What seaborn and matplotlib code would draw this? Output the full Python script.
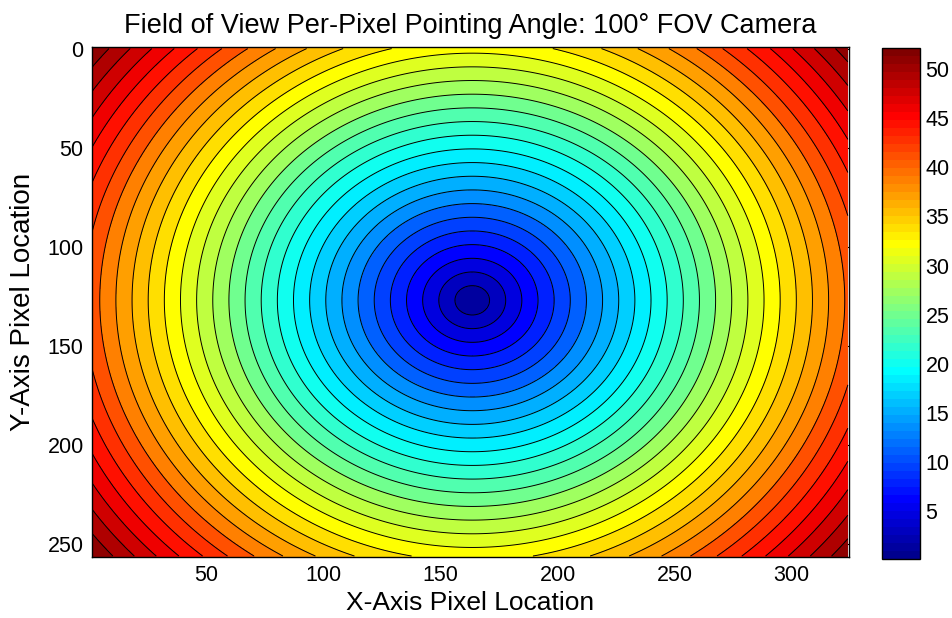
import numpy as np
import pandas as pd
import matplotlib
matplotlib.use("Agg")
import matplotlib.pyplot as plt
import seaborn as sns
from matplotlib.colors import ListedColormap, Normalize
from matplotlib.cm import ScalarMappable

# ---- data description ----
N_X = 324              # image width in pixels
N_Y = 256              # image height in pixels
CENTER = [163.5, 127.0]  # optical centre (x, y) in pixel units
DEG_PER_PIXEL = 0.2513   # angular pointing change per pixel (equidistant)
N_BANDS = 30             # number of filled contour bands
X_TICKS = [50, 100, 150, 200, 250, 300]
Y_TICKS = [0, 50, 100, 150, 200, 250]
CB_TICKS = [5, 10, 15, 20, 25, 30, 35, 40, 45, 50]

TITLE = "Field of View Per-Pixel Pointing Angle: 100° FOV Camera"
XLABEL = "X-Axis Pixel Location"
YLABEL = "Y-Axis Pixel Location"

# ---- MATLAB-style jet(64) ----
def matlab_jet(n=64):
    m = int(np.ceil(n / 4))
    u = np.concatenate([np.arange(1, m + 1) / m, np.ones(m - 1), np.arange(m, 0, -1) / m])
    g = int(np.ceil(m / 2)) - (1 if n % 4 == 1 else 0) + np.arange(1, len(u) + 1)
    r = g + m
    b = g - m
    J = np.zeros((n, 3))
    ok = r <= n
    J[r[ok] - 1, 0] = u[ok]
    ok = g <= n
    J[g[ok] - 1, 1] = u[ok]
    ok = b >= 1
    J[b[ok] - 1, 2] = u[: len(b)][ok]
    return J

jet64 = ListedColormap(matlab_jet(64))

# ---- field ----
x = np.arange(1, N_X + 1)
y = np.arange(0, N_Y + 1)
X, Y = np.meshgrid(x, y)
angle = np.hypot(X - CENTER[0], Y - CENTER[1]) * DEG_PER_PIXEL
df = pd.DataFrame(angle, index=y, columns=x)

zmin, zmax = float(df.values.min()), float(df.values.max())
levels = np.linspace(zmin, zmax, N_BANDS + 1)

sns.set_theme(style="white")
plt.rcParams["font.family"] = ["Liberation Sans", "DejaVu Sans"]
plt.rcParams["text.color"] = "black"
plt.rcParams["axes.labelcolor"] = "black"
plt.rcParams["xtick.color"] = "black"
plt.rcParams["ytick.color"] = "black"
plt.rcParams["xtick.direction"] = "in"
plt.rcParams["ytick.direction"] = "in"

fig = plt.figure(figsize=(9.53, 6.18), dpi=100)
ax = fig.add_axes([92 / 953, 1 - 557 / 618, (849 - 92) / 953, (557 - 47) / 618])
cax = fig.add_axes([882 / 953, 1 - 559 / 618, 38 / 953, (559 - 48) / 618])

norm = Normalize(zmin, zmax)
ax.contourf(df.columns.values, df.index.values, df.values, levels=levels,
            cmap=jet64, norm=norm)
ax.contour(df.columns.values, df.index.values, df.values, levels=levels[1:-1],
           colors="black", linewidths=0.7)

ax.set_xlim(1, 324.5)
ax.set_ylim(256.5, -0.8)
ax.set_xticks(X_TICKS)
ax.set_yticks(Y_TICKS)
ax.tick_params(axis="both", which="both", direction="in", length=5, width=0.8,
               top=True, right=True, labelsize=15.5, colors="black",
               labelcolor="black", pad=6)
for s in ax.spines.values():
    s.set_visible(True)
    s.set_color("black")
    s.set_linewidth(1.0)

ax.set_title(TITLE, fontsize=19.5, pad=10, color="black")
ax.set_xlabel(XLABEL, fontsize=19, labelpad=3, color="black")
ax.set_ylabel(YLABEL, fontsize=20, labelpad=8, color="black")

cb = fig.colorbar(ScalarMappable(norm=norm, cmap=jet64), cax=cax)
cb.set_ticks(CB_TICKS)
cb.ax.tick_params(direction="in", length=5, width=0.8, left=True, right=True,
                  labelsize=15.5, colors="black", labelcolor="black", pad=4)
cb.outline.set_edgecolor("black")
cb.outline.set_linewidth(1.0)

fig.savefig("out.png", dpi=100)
